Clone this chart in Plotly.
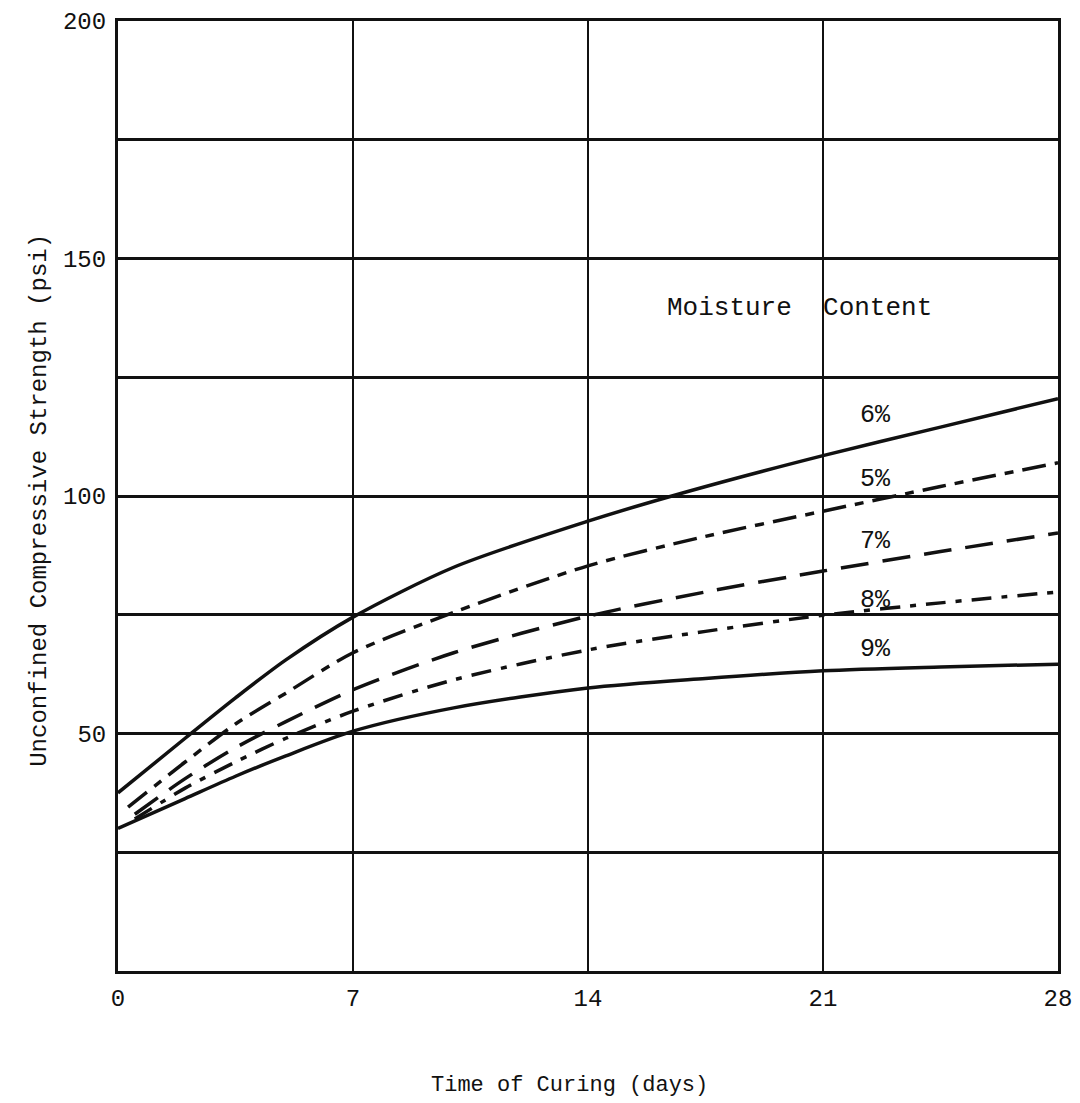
import plotly.graph_objects as go

# Data
days_6 = [0, 2, 3.5, 5, 7, 10, 14, 17, 21, 24.5, 28]
mc_6 = [37.5, 49, 57.5, 65.5, 74.5, 85, 94.7, 101, 108.5, 114.5, 120.5]

days_5 = [0.3, 2, 3.5, 5, 7, 10, 14, 17.5, 21, 24.5, 28]
mc_5 = [34.5, 44, 52, 58.5, 67, 75.5, 85.3, 91.5, 96.8, 102, 107]

days_7 = [0.5, 2, 3.5, 5, 7, 10, 14, 17.5, 21, 24.5, 28]
mc_7 = [33, 40.5, 47, 52.5, 59.2, 67, 74.7, 79.8, 84.2, 88.3, 92.2]

days_8 = [0.5, 2, 3.5, 5, 7, 10, 14, 17.5, 21, 24.5, 28]
mc_8 = [32, 38.5, 44, 49, 54.7, 61.3, 67.6, 71.5, 74.9, 77.5, 79.8]

days_9 = [0, 2, 3.5, 5, 7, 10, 14, 17.5, 21, 24.5, 28]
mc_9 = [30, 36.3, 41, 45.3, 50.5, 55.4, 59.6, 61.6, 63.2, 64.0, 64.6]

series = [
    ("6%", days_6, mc_6, "solid", 117),
    ("5%", days_5, mc_5, "24px,9px,9px,9px", 103.4),
    ("7%", days_7, mc_7, "28px,14px", 90.5),
    ("8%", days_8, mc_8, "20px,10px,6px,10px", 78.1),
    ("9%", days_9, mc_9, "solid", 67.6),
]

x_ticks = [0, 7, 14, 21, 28]
y_ticks = [0, 25, 50, 75, 100, 125, 150, 175, 200]
y_ticktext = ["", "", "50", "", "100", "", "150", "", "200"]

FONT = "Liberation Mono, Courier New, monospace"
INK = "#111111"

fig = go.Figure()
for name, xs, ys, dash, lab_y in series:
    fig.add_trace(go.Scatter(
        x=xs, y=ys, mode="lines", name=name,
        line=dict(color=INK, width=3.5, dash=dash, shape="spline", smoothing=0.8),
        showlegend=False, hoverinfo="skip",
    ))
    fig.add_annotation(x=22.55, y=lab_y, text=name, showarrow=False,
                       font=dict(family=FONT, size=25, color=INK))

fig.add_annotation(x=20.3, y=139.6, text="Moisture&nbsp;&nbsp;Content", showarrow=False,
                   font=dict(family=FONT, size=26, color=INK))

# axis titles placed in paper coordinates
fig.add_annotation(xref="paper", yref="paper", x=0.48, y=-0.12,
                   xanchor="center", yanchor="middle",
                   text="Time of Curing (days)", showarrow=False,
                   font=dict(family=FONT, size=22, color=INK))
fig.add_annotation(xref="paper", yref="paper", x=-0.083, y=0.496,
                   xanchor="center", yanchor="middle",
                   text="Unconfined Compressive Strength (psi)", showarrow=False,
                   textangle=-90, font=dict(family=FONT, size=24, color=INK))

fig.update_layout(
    width=1072, height=1095,
    margin=dict(l=110, r=22, t=13, b=132),
    paper_bgcolor="white", plot_bgcolor="white",
    font=dict(family=FONT, size=24, color=INK),
)
fig.update_xaxes(
    range=[0, 28], tickvals=x_ticks, ticktext=[str(v) for v in x_ticks],
    showgrid=True, gridcolor=INK, gridwidth=2,
    showline=True, linecolor=INK, linewidth=3, mirror=True,
    zeroline=False, ticks="", ticklen=0, automargin=False,
    ticklabelstandoff=3, ticklabeloverflow="allow",
    tickfont=dict(family=FONT, size=24, color=INK),
)
fig.update_yaxes(
    range=[0, 200], tickvals=y_ticks, ticktext=y_ticktext,
    showgrid=True, gridcolor=INK, gridwidth=3,
    showline=True, linecolor=INK, linewidth=3, mirror=True,
    zeroline=False, ticks="", ticklen=0, automargin=False,
    ticklabelstandoff=4, ticklabeloverflow="allow",
    tickfont=dict(family=FONT, size=24, color=INK),
)

fig.write_html("out.html")
